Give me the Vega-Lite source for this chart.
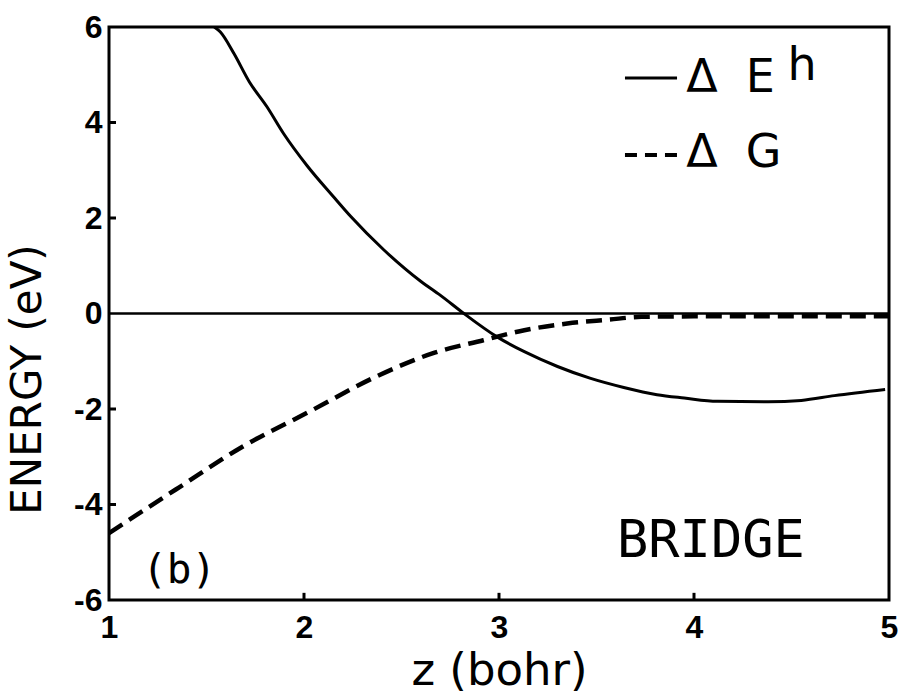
{
  "$schema": "https://vega.github.io/schema/vega-lite/v6.json",
  "width": 780,
  "height": 573,
  "autosize": "none",
  "padding": {"left": 109, "top": 27, "right": 13, "bottom": 94},
  "background": "white",
  "config": {
    "view": {"stroke": "black", "strokeWidth": 3},
    "axis": {
      "domain": false,
      "grid": false,
      "ticks": false,
      "labelFont": "Liberation Sans",
      "labelFontWeight": "bold",
      "labelFontSize": 32,
      "labelColor": "black",
      "labelFlush": false,
      "labelOverlap": false,
      "titleFont": "DejaVu Sans",
      "titleFontWeight": "normal",
      "titleFontSize": 42,
      "titleColor": "black"
    }
  },
  "datasets": {
    "curves": [
      {"z": 1.54, "energy": 6.0, "series": "dEh"},
      {"z": 1.57, "energy": 5.9, "series": "dEh"},
      {"z": 1.64, "energy": 5.45, "series": "dEh"},
      {"z": 1.72, "energy": 4.85, "series": "dEh"},
      {"z": 1.81, "energy": 4.33, "series": "dEh"},
      {"z": 1.895, "energy": 3.77, "series": "dEh"},
      {"z": 2.015, "energy": 3.1, "series": "dEh"},
      {"z": 2.15, "energy": 2.45, "series": "dEh"},
      {"z": 2.24, "energy": 2.03, "series": "dEh"},
      {"z": 2.41, "energy": 1.33, "series": "dEh"},
      {"z": 2.6, "energy": 0.67, "series": "dEh"},
      {"z": 2.7, "energy": 0.38, "series": "dEh"},
      {"z": 2.82, "energy": 0.0, "series": "dEh"},
      {"z": 2.99, "energy": -0.49, "series": "dEh"},
      {"z": 3.13, "energy": -0.8, "series": "dEh"},
      {"z": 3.3, "energy": -1.11, "series": "dEh"},
      {"z": 3.47, "energy": -1.36, "series": "dEh"},
      {"z": 3.64, "energy": -1.55, "series": "dEh"},
      {"z": 3.81, "energy": -1.7, "series": "dEh"},
      {"z": 3.95, "energy": -1.77, "series": "dEh"},
      {"z": 4.12, "energy": -1.84, "series": "dEh"},
      {"z": 4.38, "energy": -1.85, "series": "dEh"},
      {"z": 4.55, "energy": -1.82, "series": "dEh"},
      {"z": 4.72, "energy": -1.72, "series": "dEh"},
      {"z": 4.98, "energy": -1.59, "series": "dEh"},
      {"z": 1.0, "energy": -4.6, "series": "dG"},
      {"z": 1.13, "energy": -4.25, "series": "dG"},
      {"z": 1.36, "energy": -3.64, "series": "dG"},
      {"z": 1.68, "energy": -2.8, "series": "dG"},
      {"z": 2.03, "energy": -2.05, "series": "dG"},
      {"z": 2.36, "energy": -1.34, "series": "dG"},
      {"z": 2.67, "energy": -0.82, "series": "dG"},
      {"z": 2.92, "energy": -0.56, "series": "dG"},
      {"z": 3.13, "energy": -0.35, "series": "dG"},
      {"z": 3.35, "energy": -0.21, "series": "dG"},
      {"z": 3.56, "energy": -0.13, "series": "dG"},
      {"z": 3.73, "energy": -0.07, "series": "dG"},
      {"z": 4.0, "energy": -0.06, "series": "dG"},
      {"z": 4.5, "energy": -0.06, "series": "dG"},
      {"z": 5.0, "energy": -0.06, "series": "dG"}
    ],
    "single": [{}]
  },
  "layer": [
    {
      "data": {"name": "curves"},
      "transform": [{"filter": "datum.series === 'dEh'"}],
      "mark": {"type": "line", "color": "black", "strokeWidth": 3, "interpolate": "monotone", "clip": true},
      "encoding": {
        "x": {
          "field": "z", "type": "quantitative",
          "scale": {"domain": [1, 5], "nice": false, "zero": false},
          "axis": {
            "title": "z (bohr)",
            "titleFontSize": 45,
            "values": [1, 2, 3, 4, 5],
            "labelExpr": "'' + datum.value",
            "labelPadding": 12,
            "titleBaseline": "alphabetic",
            "titleY": 84
          }
        },
        "y": {
          "field": "energy", "type": "quantitative",
          "scale": {"domain": [-6, 6], "nice": false, "zero": false},
          "axis": {
            "title": "ENERGY (eV)",
            "values": [-6, -4, -2, 0, 2, 4, 6],
            "labelExpr": "'' + datum.value",
            "labelPadding": 7,
            "titleBaseline": "alphabetic",
            "titleAlign": "center",
            "titleX": -69,
            "titleY": 352
          }
        }
      }
    },
    {
      "data": {"name": "curves"},
      "transform": [{"filter": "datum.series === 'dG'"}],
      "mark": {"type": "line", "color": "black", "strokeWidth": 4.5, "strokeDash": [16, 8], "strokeCap": "butt", "interpolate": "monotone", "clip": true},
      "encoding": {
        "x": {"field": "z", "type": "quantitative"},
        "y": {"field": "energy", "type": "quantitative"}
      }
    },
    {
      "data": {"name": "single"},
      "mark": {"type": "rule", "color": "black", "strokeWidth": 2.5},
      "encoding": {"y": {"datum": 0}}
    },
    {
      "data": {"name": "single"},
      "mark": {"type": "rule", "color": "black", "strokeWidth": 3},
      "encoding": {"x": {"datum": 2}, "y": {"datum": -6}, "y2": {"datum": -5.85}}
    },
    {
      "data": {"name": "single"},
      "mark": {"type": "rule", "color": "black", "strokeWidth": 3},
      "encoding": {"x": {"datum": 3}, "y": {"datum": -6}, "y2": {"datum": -5.85}}
    },
    {
      "data": {"name": "single"},
      "mark": {"type": "rule", "color": "black", "strokeWidth": 3},
      "encoding": {"x": {"datum": 4}, "y": {"datum": -6}, "y2": {"datum": -5.85}}
    },
    {
      "data": {"name": "single"},
      "mark": {"type": "rule", "color": "black", "strokeWidth": 3},
      "encoding": {"y": {"datum": 4}, "x": {"datum": 1}, "x2": {"datum": 1.036}}
    },
    {
      "data": {"name": "single"},
      "mark": {"type": "rule", "color": "black", "strokeWidth": 3},
      "encoding": {"y": {"datum": 2}, "x": {"datum": 1}, "x2": {"datum": 1.036}}
    },
    {
      "data": {"name": "single"},
      "mark": {"type": "rule", "color": "black", "strokeWidth": 3},
      "encoding": {"y": {"datum": -2}, "x": {"datum": 1}, "x2": {"datum": 1.036}}
    },
    {
      "data": {"name": "single"},
      "mark": {"type": "rule", "color": "black", "strokeWidth": 3},
      "encoding": {"y": {"datum": -4}, "x": {"datum": 1}, "x2": {"datum": 1.036}}
    },
    {
      "data": {"name": "single"},
      "mark": {"type": "rule", "color": "black", "strokeWidth": 3},
      "encoding": {"x": {"datum": 3.646}, "x2": {"datum": 3.913}, "y": {"datum": 4.93}}
    },
    {
      "data": {"name": "single"},
      "mark": {"type": "rule", "color": "black", "strokeWidth": 4, "strokeDash": [12, 8], "strokeCap": "butt"},
      "encoding": {"x": {"datum": 3.646}, "x2": {"datum": 3.913}, "y": {"datum": 3.32}}
    },
    {
      "data": {"name": "single"},
      "mark": {"type": "text", "font": "DejaVu Sans", "fontSize": 46, "align": "left", "baseline": "alphabetic", "color": "black", "text": "Δ"},
      "encoding": {"x": {"datum": 3.96}, "y": {"datum": 4.64}}
    },
    {
      "data": {"name": "single"},
      "mark": {"type": "text", "font": "DejaVu Sans", "fontSize": 46, "align": "left", "baseline": "alphabetic", "color": "black", "text": "E"},
      "encoding": {"x": {"datum": 4.265}, "y": {"datum": 4.64}}
    },
    {
      "data": {"name": "single"},
      "mark": {"type": "text", "font": "DejaVu Sans", "fontSize": 46, "align": "left", "baseline": "alphabetic", "color": "black", "text": "h"},
      "encoding": {"x": {"datum": 4.48}, "y": {"datum": 4.89}}
    },
    {
      "data": {"name": "single"},
      "mark": {"type": "text", "font": "DejaVu Sans", "fontSize": 46, "align": "left", "baseline": "alphabetic", "color": "black", "text": "Δ"},
      "encoding": {"x": {"datum": 3.96}, "y": {"datum": 3.07}}
    },
    {
      "data": {"name": "single"},
      "mark": {"type": "text", "font": "DejaVu Sans", "fontSize": 46, "align": "left", "baseline": "alphabetic", "color": "black", "text": "G"},
      "encoding": {"x": {"datum": 4.265}, "y": {"datum": 3.07}}
    },
    {
      "data": {"name": "single"},
      "mark": {"type": "text", "font": "DejaVu Sans Mono", "fontSize": 52, "align": "left", "baseline": "alphabetic", "color": "black", "text": "BRIDGE"},
      "encoding": {"x": {"datum": 3.605}, "y": {"datum": -5.1}}
    },
    {
      "data": {"name": "single"},
      "mark": {"type": "text", "font": "DejaVu Sans Mono", "fontSize": 41, "align": "left", "baseline": "alphabetic", "color": "black", "text": "(b)"},
      "encoding": {"x": {"datum": 1.17}, "y": {"datum": -5.64}}
    }
  ]
}
